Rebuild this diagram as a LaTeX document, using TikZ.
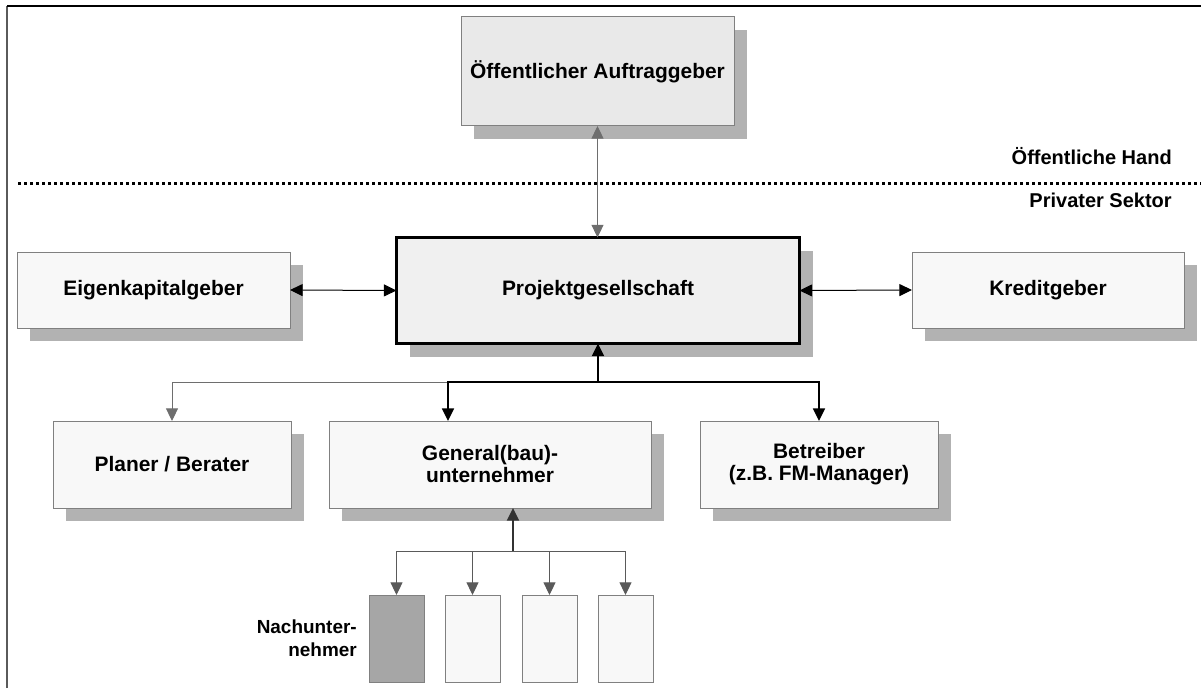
\documentclass[tikz,border=0pt]{standalone}
\usepackage{fontspec}
\setmainfont{Liberation Sans}
\usetikzlibrary{arrows.meta,shadows}

\begin{document}
\begin{tikzpicture}[x=0.75pt,y=0.75pt,yscale=-1,xscale=1,
	box/.style={draw={rgb, 255:red, 128; green, 128; blue, 128 }, line width=0.75pt, fill={rgb, 255:red, 248; green, 248; blue, 248 }, inner sep=0pt, outer sep=0pt, align=center, font=\fontsize{15.7}{16.5}\selectfont\bfseries, drop shadow={shadow xshift=9.75pt, shadow yshift=-9.75pt, fill={rgb, 255:red, 178; green, 178; blue, 178 }, opacity=1}},
	nubox/.style={draw={rgb, 255:red, 128; green, 128; blue, 128 }, line width=0.75pt, fill={rgb, 255:red, 248; green, 248; blue, 248 }, inner sep=0pt, outer sep=0pt, minimum width=41.25pt, minimum height=65.25pt},
	lbl/.style={inner sep=0pt, font=\fontsize{15}{17}\selectfont\bfseries},
	tip/.style={-{Triangle[length=9.5pt,width=9pt]}},
	dbl/.style={{Triangle[length=9.5pt,width=9pt]}-{Triangle[length=9.5pt,width=9pt]}}]
	\useasboundingbox (0,0) rectangle (1201,688);
	% frame and sector line
	\draw [color={rgb, 255:red, 90; green, 90; blue, 90 }, line width=1.1pt] (7,688) -- (7,6);
	\draw [line width=1.1pt] (7,6) -- (1201,6);
	\draw [line width=2.25pt, dash pattern=on 2.25pt off 2.25pt] (18,183) -- (1201,183);
	\draw (1172,156) node [anchor=east][lbl] (hand) {Öffentliche Hand};
	\draw (1172,200) node [anchor=east][lbl] (sektor) {Privater Sektor};
	% boxes
	\draw (597.5,71.5) node [box, fill={rgb, 255:red, 233; green, 233; blue, 233 }, minimum width=204.75pt, minimum height=81.75pt] (oeff) {Öffentlicher Auftraggeber};
	\draw (153.5,290) node [box, minimum width=204.75pt, minimum height=57pt] (eigen) {Eigenkapitalgeber};
	\draw (598,290.5) node [box, draw=black, line width=2.25pt, fill={rgb, 255:red, 240; green, 240; blue, 240 }, minimum width=302.25pt, minimum height=79.5pt] (projekt) {Projektgesellschaft};
	\draw (1048,290) node [box, minimum width=204pt, minimum height=57pt] (kredit) {Kreditgeber};
	\draw (172,464.5) node [box, minimum width=178.5pt, minimum height=65.25pt] (planer) {Planer / Berater};
	\draw (490,464.5) node [box, minimum width=241.5pt, minimum height=65.25pt] (general) {General(bau)-\\unternehmer};
	\draw (819,464.5) node [box, minimum width=178.5pt, minimum height=65.25pt] (betreiber) {Betreiber\\(z.B. FM-Manager)};
	% Nachunternehmer
	\draw (396.5,638.5) node [nubox, fill={rgb, 255:red, 166; green, 166; blue, 166 }] (nu1) {};
	\foreach \x/\n in {472.5/2,549.5/3,625.5/4}
		\draw (\x,638.5) node [nubox] (nu\n) {};
	\draw ([xshift=-9pt]nu1.west) node [anchor=east, align=right][lbl, font=\fontsize{14.2}{17}\selectfont\bfseries] (nulbl) {Nachunter-\\nehmer};
	% connectors
	\draw [color={rgb, 255:red, 110; green, 110; blue, 110 }, line width=0.75pt, dbl] (oeff.south) -- (oeff.south |- projekt.north);
	\draw [line width=0.75pt, dbl] (eigen.east) -- (projekt.west);
	\draw [line width=0.75pt, dbl] (projekt.east) -- (kredit.west);
	\coordinate (split) at (598,382);
	\draw [color={rgb, 255:red, 110; green, 110; blue, 110 }, line width=0.75pt, tip] (split) -| (planer.north);
	\draw [line width=1.5pt, tip] (split) -- (projekt.south);
	\draw [line width=1.2pt, tip] (split) -| ([xshift=-31.5pt]general.north);
	\draw [line width=1.2pt, tip] (split) -| (betreiber.north);
	\coordinate (nusplit) at (513,551);
	\foreach \n in {1,...,4}
		\draw [color={rgb, 255:red, 90; green, 90; blue, 90 }, line width=0.75pt, tip] (nusplit) -| (nu\n.north);
	\draw [color={rgb, 255:red, 50; green, 50; blue, 50 }, line width=1.5pt, tip] (nusplit) -- ([xshift=17.25pt]general.south);
\end{tikzpicture}
\end{document}
